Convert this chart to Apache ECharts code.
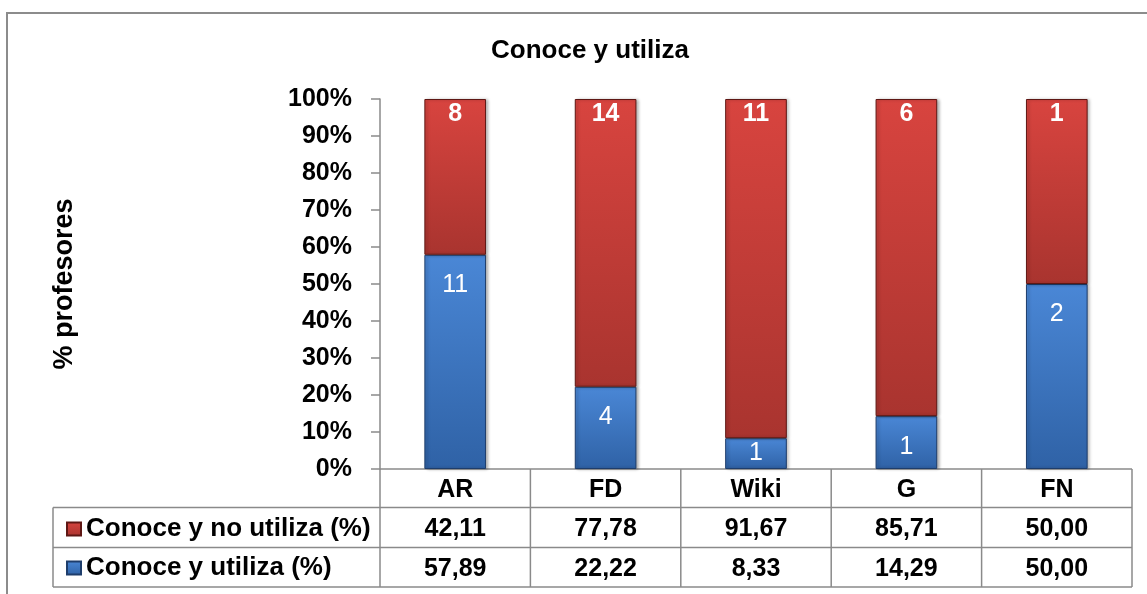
<!DOCTYPE html>
<html>
<head>
<meta charset="utf-8">
<script src="https://cdn.jsdelivr.net/npm/echarts@6/dist/echarts.min.js"></script>
<style>
  html, body { margin: 0; padding: 0; background: #fff; }
  #main { width: 1147px; height: 594px; }
</style>
</head>
<body>
<div id="main"></div>
<script>
// categories and values
var categories = ["AR", "FD", "Wiki", "G", "FN"];
var utilizaPct = [57.89, 22.22, 8.33, 14.29, 50.0];
var noUtilizaPct = [42.11, 77.78, 91.67, 85.71, 50.0];
var utilizaCount = [11, 4, 1, 1, 2];
var noUtilizaCount = [8, 14, 11, 6, 1];
var yTicks = [0, 10, 20, 30, 40, 50, 60, 70, 80, 90, 100];

var FONT = "Liberation Sans, Arial, sans-serif";
var LINE = "#8a8a8a";

// plot area
var gLeft = 380, gRight = 1132, gTop = 99, gBottom = 469;
var rows = [469, 507.5, 547.5, 587];
var tableLeft = 53;

function fmt(v) {
  return v.toFixed(2).replace(".", ",");
}

var myEchart = echarts.init(document.getElementById("main"));

// outer frame + table lines
var graphics = [
  {
    type: "rect",
    shape: { x: 7, y: 13, width: 1200, height: 620 },
    style: { fill: "none", stroke: "#8c8c8c", lineWidth: 2 },
    silent: true,
  },
];
var slot = (gRight - gLeft) / categories.length;
for (var i = 0; i <= categories.length; i++) {
  graphics.push({
    type: "line",
    shape: { x1: gLeft + i * slot, y1: rows[0], x2: gLeft + i * slot, y2: rows[3] },
    style: { stroke: LINE, lineWidth: 1.5 },
    silent: true,
  });
}
graphics.push({
  type: "line",
  shape: { x1: tableLeft, y1: rows[1], x2: tableLeft, y2: rows[3] },
  style: { stroke: LINE, lineWidth: 1.5 },
  silent: true,
});
graphics.push({
  type: "line",
  shape: { x1: gLeft, y1: rows[0], x2: gRight, y2: rows[0] },
  style: { stroke: LINE, lineWidth: 1.5 },
  silent: true,
});
for (var r = 1; r < rows.length; r++) {
  graphics.push({
    type: "line",
    shape: { x1: tableLeft, y1: rows[r], x2: gRight, y2: rows[r] },
    style: { stroke: LINE, lineWidth: 1.5 },
    silent: true,
  });
}

var tableLabel = { fontFamily: FONT, fontWeight: "bold", fontSize: 25, color: "#000", verticalAlign: "middle" };

var option = {
  animation: false,
  title: {
    text: "Conoce y utiliza",
    left: 585,
    top: 33,
    textAlign: "center",
    textStyle: { fontFamily: FONT, fontWeight: "bold", fontSize: 26, color: "#000" },
  },
  legend: {
    data: ["Conoce y no utiliza (%)", "Conoce y utiliza (%)"],
    orient: "vertical",
    left: 61,
    top: 511,
    itemGap: 13,
    itemWidth: 14,
    itemHeight: 13,
    icon: "rect",
    textStyle: { fontFamily: FONT, fontWeight: "bold", fontSize: 26, lineHeight: 26, color: "#000" },
  },
  grid: {
    left: gLeft,
    right: 1147 - gRight,
    top: gTop,
    bottom: 594 - gBottom,
  },
  xAxis: [
    {
      type: "category",
      data: categories,
      position: "bottom",
      axisLine: { show: false },
      axisTick: { show: false },
      axisLabel: Object.assign({ margin: 21 }, tableLabel),
    },
    {
      type: "category",
      data: categories,
      position: "bottom",
      offset: 0,
      axisLine: { show: false },
      axisTick: { show: false },
      axisLabel: Object.assign({ margin: 60, formatter: function (v, idx) { return fmt(noUtilizaPct[idx]); } }, tableLabel),
    },
    {
      type: "category",
      data: categories,
      position: "bottom",
      offset: 0,
      axisLine: { show: false },
      axisTick: { show: false },
      axisLabel: Object.assign({ margin: 100, formatter: function (v, idx) { return fmt(utilizaPct[idx]); } }, tableLabel),
    },
  ],
  yAxis: {
    type: "value",
    min: yTicks[0],
    max: yTicks[yTicks.length - 1],
    interval: 10,
    name: "% profesores",
    nameLocation: "middle",
    nameRotate: 90,
    nameGap: 302,
    nameTextStyle: { fontFamily: FONT, fontWeight: "bold", fontSize: 27, color: "#000" },
    axisLine: { show: true, lineStyle: { color: LINE, width: 1.5 } },
    axisTick: { show: true, length: 9, lineStyle: { color: LINE, width: 1.5 } },
    splitLine: { show: false },
    axisLabel: {
      margin: 28,
      formatter: "{value}%",
      fontFamily: FONT,
      fontWeight: "bold",
      fontSize: 25,
      color: "#000",
    },
  },
  series: [
    {
      name: "Conoce y utiliza (%)",
      type: "bar",
      stack: "total",
      barWidth: "41%",
      data: utilizaPct.map(function (v) {
        return v < 10 ? { value: v, label: { position: "inside" } } : v;
      }),
      itemStyle: {
        color: new echarts.graphic.LinearGradient(0, 0, 0, 1, [
          { offset: 0, color: "#4a87d6" },
          { offset: 1, color: "#2f62a6" },
        ]),
        borderColor: "#1e3d6b",
        borderWidth: 1,
        shadowBlur: 3,
        shadowOffsetX: 2,
        shadowColor: "rgba(0,0,0,0.3)",
      },
      label: {
        show: true,
        position: "insideTop",
        distance: 18,
        fontFamily: FONT,
        fontSize: 25,
        color: "#fff",
        formatter: function (p) { return utilizaCount[p.dataIndex]; },
      },
    },
    {
      name: "Conoce y no utiliza (%)",
      type: "bar",
      stack: "total",
      barWidth: "41%",
      data: noUtilizaPct,
      itemStyle: {
        color: new echarts.graphic.LinearGradient(0, 0, 0, 1, [
          { offset: 0, color: "#d8443f" },
          { offset: 1, color: "#a9342f" },
        ]),
        borderColor: "#5e1714",
        borderWidth: 1,
        shadowBlur: 3,
        shadowOffsetX: 2,
        shadowColor: "rgba(0,0,0,0.3)",
      },
      label: {
        show: true,
        position: "insideTop",
        distance: 3,
        fontFamily: FONT,
        fontWeight: "bold",
        fontSize: 25,
        color: "#fff",
        formatter: function (p) { return noUtilizaCount[p.dataIndex]; },
      },
    },
  ],
  graphic: graphics,
};

myEchart.setOption(option);
</script>
</body>
</html>
